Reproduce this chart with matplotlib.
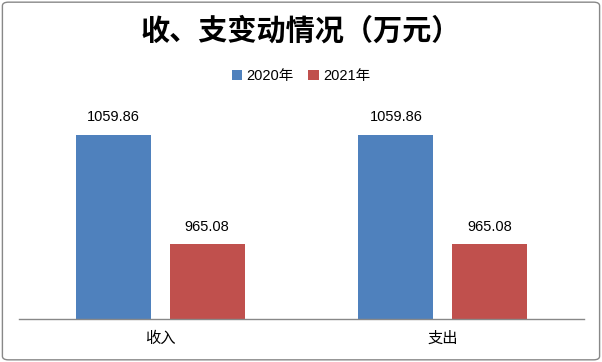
import numpy as np
import matplotlib
matplotlib.use('Agg')
import matplotlib.pyplot as plt
from matplotlib.patches import FancyBboxPatch, Patch

plt.rcParams['font.family'] = ['Noto Sans CJK SC', 'DejaVu Sans']

categories = ['收入', '支出']
series_names = ['2020年', '2021年']
values_2020 = [1059.86, 1059.86]
values_2021 = [965.08, 965.08]
colors = ['#4F81BD', '#C0504D']

fig = plt.figure(figsize=(6.02, 3.62), dpi=100)
# axes area in pixels: x 19..584, y 100..319 (from top)
ax = fig.add_axes([19 / 602, (362 - 319) / 362, 565 / 602, 219 / 362])

x = np.arange(len(categories))
w = 0.265
off = 0.166
b1 = ax.bar(x - off, np.array(values_2020) - 900, w, bottom=900, color=colors[0])
b2 = ax.bar(x + off, np.array(values_2021) - 900, w, bottom=900, color=colors[1])

for rects, vals in [(b1, values_2020), (b2, values_2021)]:
    for r, v in zip(rects, vals):
        ax.text(r.get_x() + r.get_width() / 2, v + 9, '%.2f' % v,
                ha='center', va='bottom', fontsize=10.5, family=['Liberation Sans', 'DejaVu Sans'])

ax.set_xlim(-0.5, 1.5)
ax.set_ylim(900, 1090)
ax.set_xticks(x)
ax.set_xticklabels(categories, fontsize=11)
ax.tick_params(axis='x', length=0, pad=8)
ax.set_yticks([])
for s in ['top', 'right', 'left']:
    ax.spines[s].set_visible(False)
ax.spines['bottom'].set_color('#888888')
ax.spines['bottom'].set_linewidth(1)

fig.text(0.5, 1 - 31 / 362, '收、支变动情况（万元）', ha='center', va='center',
         fontsize=21, fontweight='bold')

handles = [Patch(facecolor=c) for c in colors]
fig.legend(handles, series_names, loc='center', bbox_to_anchor=(0.5, 1 - 76 / 362),
           ncol=2, frameon=False, handlelength=0.7, handleheight=0.7,
           handletextpad=0.3, columnspacing=1.0,
           prop={'family': ['Liberation Sans', 'Noto Sans CJK SC'], 'size': 10.5})

border = FancyBboxPatch((0.004, 0.006), 0.992, 0.988, boxstyle='round,pad=0,rounding_size=0.01',
                        transform=fig.transFigure, facecolor='none', edgecolor='#888888', linewidth=1)
fig.patches.append(border)

plt.savefig('out.png', dpi=100)
